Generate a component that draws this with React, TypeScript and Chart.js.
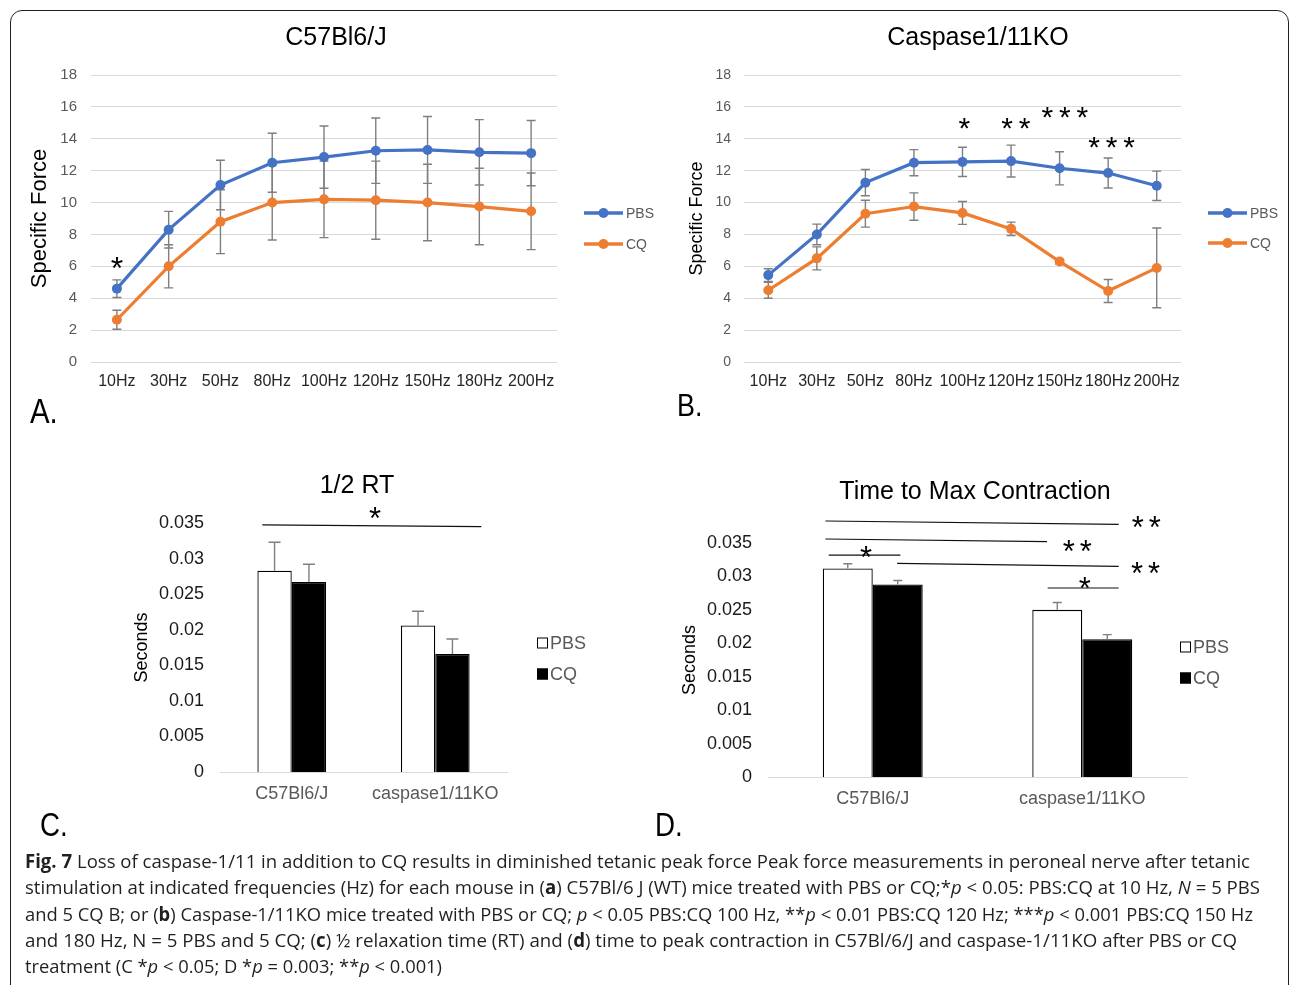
import React, { useEffect, useLayoutEffect, useRef } from 'react';
import { Chart, registerables } from 'chart.js';

Chart.register(...registerables);

const SANS = "'Liberation Sans', Arial, Helvetica, sans-serif";
Chart.defaults.font.family = SANS;

// ---------- Data ----------
const freqLabels = ['10Hz', '30Hz', '50Hz', '80Hz', '100Hz', '120Hz', '150Hz', '180Hz', '200Hz'];

// Panel A: C57Bl6/J
const wtPBS = [4.6, 8.3, 11.1, 12.5, 12.85, 13.25, 13.3, 13.15, 13.1];
const wtPBSErr = [0.55, 1.15, 1.55, 1.85, 1.95, 2.05, 2.1, 2.05, 2.05];
const wtCQ = [2.65, 6.0, 8.8, 10.0, 10.2, 10.15, 10.0, 9.75, 9.45];
const wtCQErr = [0.6, 1.35, 2.0, 2.35, 2.4, 2.45, 2.4, 2.4, 2.4];

// Panel B: Caspase1/11KO
const koPBS = [5.45, 8.0, 11.25, 12.5, 12.55, 12.6, 12.15, 11.85, 11.05];
const koPBSErr = [0.4, 0.65, 0.82, 0.82, 0.92, 1.0, 1.04, 0.94, 0.92];
const koCQ = [4.5, 6.5, 9.3, 9.75, 9.35, 8.35, 6.3, 4.45, 5.9];
const koCQErr = [0.5, 0.72, 0.84, 0.86, 0.72, 0.42, 0.15, 0.72, 2.5];

// Panels C and D
const groupLabels = ['C57Bl6/J', 'caspase1/11KO'];
const rtPBS = [0.0283, 0.0206];
const rtPBSErr = [0.004, 0.002];
const rtCQ = [0.0267, 0.0166];
const rtCQErr = [0.0025, 0.0021];

const tmcPBS = [0.0312, 0.025];
const tmcPBSErr = [0.0007, 0.0011];
const tmcCQ = [0.0288, 0.0206];
const tmcCQErr = [0.0006, 0.0007];

// Significance marks (x = category index, y = axis value)
const starsA = [{ x: 0, y: 6.3, n: 1 }];
const starsB = [
  { x: 4.04, y: 15.07, n: 1 },
  { x: 5.1, y: 15.07, n: 2 },
  { x: 6.11, y: 15.76, n: 3 },
  { x: 7.07, y: 13.93, n: 3 },
];
const bracketsC = [{ x1: -0.205, y1: 0.03475, x2: 1.321, y2: 0.0345 }];
const starsC = [{ x: 0.581, y: 0.03655, n: 1 }];
const bracketsD = [
  { x1: -0.226, y1: 0.03829, x2: 1.174, y2: 0.0378 },
  { x1: -0.226, y1: 0.0356, x2: 0.832, y2: 0.03521 },
  { x1: -0.21, y1: 0.0332, x2: 0.132, y2: 0.0332 },
  { x1: 0.116, y1: 0.03196, x2: 1.174, y2: 0.03151 },
  { x1: 0.835, y1: 0.02827, x2: 1.174, y2: 0.02827 },
];
const starsD = [
  { x: 1.306, y: 0.03829, n: 2 },
  { x: 0.976, y: 0.03466, n: 2 },
  { x: -0.032, y: 0.0339, n: 1 },
  { x: 1.302, y: 0.03151, n: 2 },
  { x: 1.012, y: 0.02917, n: 1 },
];

const BLUE = '#4472C4';
const ORANGE = '#ED7D31';

// ---------- Plugins ----------
function makeErrorBars(cfg: { color: string; width: number; cap: number; behind: boolean; upOnly: boolean }) {
  const draw = (chart: any) => {
    const { ctx } = chart;
    const ys = chart.scales.y;
    ctx.save();
    ctx.strokeStyle = cfg.color;
    ctx.lineWidth = cfg.width;
    chart.data.datasets.forEach((ds: any, i: number) => {
      const errs: number[] = ds.errors;
      if (!errs) return;
      const meta = chart.getDatasetMeta(i);
      meta.data.forEach((el: any, j: number) => {
        const v = ds.data[j];
        const e = errs[j];
        const x = el.x;
        const yTop = ys.getPixelForValue(v + e);
        const yBot = cfg.upOnly ? el.y : ys.getPixelForValue(v - e);
        ctx.beginPath();
        ctx.moveTo(x, yBot);
        ctx.lineTo(x, yTop);
        ctx.moveTo(x - cfg.cap, yTop);
        ctx.lineTo(x + cfg.cap, yTop);
        if (!cfg.upOnly) {
          ctx.moveTo(x - cfg.cap, yBot);
          ctx.lineTo(x + cfg.cap, yBot);
        }
        ctx.stroke();
      });
    });
    ctx.restore();
  };
  return {
    id: 'errorBars',
    beforeDatasetsDraw(chart: any) {
      if (cfg.behind) draw(chart);
    },
    afterDatasetsDraw(chart: any) {
      if (!cfg.behind) draw(chart);
    },
  };
}

function drawStars(ctx: CanvasRenderingContext2D, cx: number, cy: number, n: number, size: number, gap: number) {
  ctx.font = `${size}px ${SANS}`;
  ctx.textAlign = 'center';
  ctx.textBaseline = 'alphabetic';
  ctx.fillStyle = '#000';
  for (let k = 0; k < n; k++) {
    const x = cx + (k - (n - 1) / 2) * gap;
    ctx.fillText('*', x, cy + size * 0.555);
  }
}

type DecorCfg = {
  title: { text: string; x: number; y: number; size: number };
  legend: { kind: 'line' | 'box'; x: number; ys: number[]; items: { label: string; color: string }[]; size: number };
  stars?: { x: number; y: number; n: number }[];
  brackets?: { x1: number; y1: number; x2: number; y2: number }[];
  starSize: number;
  starGap: number;
};

function makeDecor(cfg: DecorCfg) {
  return {
    id: 'decor',
    afterDraw(chart: any) {
      const { ctx } = chart;
      const xs = chart.scales.x;
      const ys = chart.scales.y;
      ctx.save();
      // title
      ctx.font = `${cfg.title.size}px ${SANS}`;
      ctx.fillStyle = '#000';
      ctx.textAlign = 'center';
      ctx.textBaseline = 'middle';
      ctx.fillText(cfg.title.text, cfg.title.x, cfg.title.y);
      // brackets
      (cfg.brackets || []).forEach((b) => {
        ctx.beginPath();
        ctx.strokeStyle = '#111';
        ctx.lineWidth = 1.2;
        ctx.moveTo(xs.getPixelForValue(b.x1), ys.getPixelForValue(b.y1));
        ctx.lineTo(xs.getPixelForValue(b.x2), ys.getPixelForValue(b.y2));
        ctx.stroke();
      });
      // stars
      (cfg.stars || []).forEach((s) => {
        drawStars(ctx, xs.getPixelForValue(s.x), ys.getPixelForValue(s.y), s.n, cfg.starSize, cfg.starGap);
      });
      // legend
      const lg = cfg.legend;
      lg.items.forEach((it, k) => {
        const y = lg.ys[k];
        let tx = lg.x;
        if (lg.kind === 'line') {
          ctx.beginPath();
          ctx.strokeStyle = it.color;
          ctx.lineWidth = 3.5;
          ctx.moveTo(lg.x, y);
          ctx.lineTo(lg.x + 39, y);
          ctx.stroke();
          ctx.beginPath();
          ctx.fillStyle = it.color;
          ctx.arc(lg.x + 19.5, y, 5, 0, Math.PI * 2);
          ctx.fill();
          tx = lg.x + 42;
        } else {
          ctx.fillStyle = it.color;
          ctx.fillRect(lg.x, y - 5.5, 11, 11);
          ctx.strokeStyle = '#000';
          ctx.lineWidth = 1;
          ctx.strokeRect(lg.x + 0.5, y - 5, 10, 10);
          tx = lg.x + 13;
        }
        ctx.font = `${lg.size}px ${SANS}`;
        ctx.fillStyle = '#595959';
        ctx.textAlign = 'left';
        ctx.textBaseline = 'middle';
        ctx.fillText(it.label, tx, y + 1);
      });
      ctx.restore();
    },
  };
}

// ---------- Chart configs ----------
const W = 1290;
const H = 985;

function lineConfig(opts: {
  pbs: number[]; pbsErr: number[]; cq: number[]; cqErr: number[];
  area: { l: number; r: number; t: number; b: number };
  yWidth: number; yTitleSize: number; yTitlePad: number; yTickSize: number; yTickPad: number;
  decor: DecorCfg;
}) {
  const { area } = opts;
  const xH = 40;
  return {
    type: 'line',
    data: {
      labels: freqLabels,
      datasets: [
        {
          label: 'PBS', data: opts.pbs, errors: opts.pbsErr,
          borderColor: BLUE, backgroundColor: BLUE, pointBackgroundColor: BLUE, pointBorderColor: BLUE,
          borderWidth: 3.2, pointRadius: 5, pointBorderWidth: 0, tension: 0,
        },
        {
          label: 'CQ', data: opts.cq, errors: opts.cqErr,
          borderColor: ORANGE, backgroundColor: ORANGE, pointBackgroundColor: ORANGE, pointBorderColor: ORANGE,
          borderWidth: 3.2, pointRadius: 5, pointBorderWidth: 0, tension: 0,
        },
      ],
    },
    options: {
      responsive: false,
      animation: false,
      events: [],
      layout: { padding: { left: area.l - opts.yWidth, right: W - area.r, top: area.t, bottom: H - area.b - xH } },
      scales: {
        x: {
          offset: true,
          grid: { display: false, drawTicks: false, offset: true },
          border: { display: false },
          ticks: { color: '#262626', font: { size: 16 }, padding: 10, autoSkip: false, maxRotation: 0, minRotation: 0 },
          afterFit: (s: any) => { s.height = xH; },
        },
        y: {
          min: 0, max: 18,
          grid: { color: '#d9d9d9', lineWidth: 1, drawTicks: false },
          border: { display: false },
          ticks: { stepSize: 2, color: '#595959', font: { size: opts.yTickSize }, padding: opts.yTickPad },
          title: { display: true, text: 'Specific Force', color: '#000', font: { size: opts.yTitleSize }, padding: { top: opts.yTitlePad, bottom: 0 } },
          afterFit: (s: any) => { s.width = opts.yWidth; },
        },
      },
      plugins: { legend: { display: false }, tooltip: { enabled: false }, title: { display: false } },
    },
    plugins: [makeErrorBars({ color: '#7f7f7f', width: 1.4, cap: 4.5, behind: true, upOnly: false }), makeDecor(opts.decor)],
  };
}

function barConfig(opts: {
  pbs: number[]; pbsErr: number[]; cq: number[]; cqErr: number[];
  area: { l: number; r: number; t: number; b: number };
  yWidth: number; yTitlePad: number; yTickPad: number; catPct: number; cap: number;
  decor: DecorCfg;
}) {
  const { area } = opts;
  const xH = 40;
  return {
    type: 'bar',
    data: {
      labels: groupLabels,
      datasets: [
        {
          label: 'PBS', data: opts.pbs, errors: opts.pbsErr,
          backgroundColor: '#ffffff', borderColor: '#000000', borderWidth: 1.3,
          categoryPercentage: opts.catPct, barPercentage: 1,
        },
        {
          label: 'CQ', data: opts.cq, errors: opts.cqErr,
          backgroundColor: '#000000', borderColor: '#000000', borderWidth: 1.3,
          categoryPercentage: opts.catPct, barPercentage: 1,
        },
      ],
    },
    options: {
      responsive: false,
      animation: false,
      events: [],
      layout: { padding: { left: area.l - opts.yWidth, right: W - area.r, top: area.t, bottom: H - area.b - xH } },
      scales: {
        x: {
          grid: { display: false, drawTicks: false },
          border: { display: true, color: '#d9d9d9', width: 1 },
          ticks: { color: '#595959', font: { size: 18 }, padding: 11, autoSkip: false, maxRotation: 0, minRotation: 0 },
          afterFit: (s: any) => { s.height = xH; },
        },
        y: {
          min: 0, max: 0.035,
          grid: { display: false, drawTicks: false },
          border: { display: false },
          ticks: {
            stepSize: 0.005, color: '#1a1a1a', font: { size: 18 }, padding: opts.yTickPad,
            callback: (v: any) => String(Number(Number(v).toFixed(3))),
          },
          title: { display: true, text: 'Seconds', color: '#000', font: { size: 18 }, padding: { top: opts.yTitlePad, bottom: 0 } },
          afterFit: (s: any) => { s.width = opts.yWidth; },
        },
      },
      plugins: { legend: { display: false }, tooltip: { enabled: false }, title: { display: false } },
    },
    plugins: [makeErrorBars({ color: '#7f7f7f', width: 1.4, cap: opts.cap, behind: false, upOnly: true }), makeDecor(opts.decor)],
  };
}

const configA = lineConfig({
  pbs: wtPBS, pbsErr: wtPBSErr, cq: wtCQ, cqErr: wtCQErr,
  area: { l: 91, r: 557, t: 75, b: 362 },
  yWidth: 70, yTitleSize: 22, yTitlePad: 6, yTickSize: 15, yTickPad: 14,
  decor: {
    title: { text: 'C57Bl6/J', x: 336, y: 38, size: 25 },
    legend: { kind: 'line', x: 584, ys: [213, 244], items: [{ label: 'PBS', color: BLUE }, { label: 'CQ', color: ORANGE }], size: 14 },
    stars: starsA, starSize: 32, starGap: 17,
  },
});

const configB = lineConfig({
  pbs: koPBS, pbsErr: koPBSErr, cq: koCQ, cqErr: koCQErr,
  area: { l: 744, r: 1181, t: 75, b: 362 },
  yWidth: 60, yTitleSize: 18, yTitlePad: 2, yTickSize: 14, yTickPad: 13,
  decor: {
    title: { text: 'Caspase1/11KO', x: 978, y: 38, size: 25 },
    legend: { kind: 'line', x: 1208, ys: [213, 243], items: [{ label: 'PBS', color: BLUE }, { label: 'CQ', color: ORANGE }], size: 14 },
    stars: starsB, starSize: 30, starGap: 17.5,
  },
});

const configC = barConfig({
  pbs: rtPBS, pbsErr: rtPBSErr, cq: rtCQ, cqErr: rtCQErr,
  area: { l: 220, r: 507, t: 523, b: 772 },
  yWidth: 90, yTitlePad: 1, yTickPad: 16, catPct: 0.479, cap: 6,
  decor: {
    title: { text: '1/2 RT', x: 357, y: 486, size: 25 },
    legend: { kind: 'box', x: 537, ys: [643, 674], items: [{ label: 'PBS', color: '#ffffff' }, { label: 'CQ', color: '#000000' }], size: 18 },
    stars: starsC, brackets: bracketsC, starSize: 31, starGap: 17,
  },
});

const configD = barConfig({
  pbs: tmcPBS, pbsErr: tmcPBSErr, cq: tmcCQ, cqErr: tmcCQErr,
  area: { l: 768, r: 1187, t: 543, b: 777 },
  yWidth: 90, yTitlePad: 1, yTickPad: 16, catPct: 0.477, cap: 4.5,
  decor: {
    title: { text: 'Time to Max Contraction', x: 975, y: 492, size: 25 },
    legend: { kind: 'box', x: 1180, ys: [647, 678], items: [{ label: 'PBS', color: '#ffffff' }, { label: 'CQ', color: '#000000' }], size: 18 },
    stars: starsD, brackets: bracketsD, starSize: 31, starGap: 17,
  },
});

// ---------- Components ----------
function ChartCanvas({ config }: { config: any }) {
  const ref = useRef<HTMLCanvasElement>(null);
  useEffect(() => {
    const chart = new Chart(ref.current as HTMLCanvasElement, config);
    return () => chart.destroy();
  }, [config]);
  return (
    <canvas
      ref={ref}
      width={W}
      height={H}
      style={{ position: 'absolute', left: 0, top: 0, width: W, height: H }}
    />
  );
}

const captionTargets = [1225, 1235, 1228, 1212, 417];

function PanelLabel({ text, left, capTop, size }: { text: string; left: number; capTop: number; size: number }) {
  return (
    <div
      style={{
        position: 'absolute', left, top: capTop - 0.1305 * size, fontSize: size, lineHeight: 1,
        fontFamily: SANS, color: '#000', whiteSpace: 'nowrap',
        transform: 'scaleX(0.84)', transformOrigin: 'left top',
      }}
    >
      {text}
    </div>
  );
}

export default function App() {
  const lineRefs = useRef<(HTMLSpanElement | null)[]>([]);

  useLayoutEffect(() => {
    const fit = () => {
      lineRefs.current.forEach((el, i) => {
        if (!el) return;
        el.style.transform = 'none';
        const w = el.getBoundingClientRect().width;
        if (w > 0) el.style.transform = `scaleX(${captionTargets[i] / w})`;
      });
    };
    fit();
    const fonts = (document as any).fonts;
    if (fonts && fonts.ready) fonts.ready.then(fit);
  }, []);

  const lineStyle = (i: number): React.CSSProperties => ({
    position: 'absolute', left: 25, top: 848 + i * 26.25, height: 26, lineHeight: '26px',
    whiteSpace: 'nowrap', transformOrigin: 'left center', display: 'inline-block',
  });

  const captionLines: React.ReactNode[] = [
    <><b>Fig. 7</b> Loss of caspase-1/11 in addition to CQ results in diminished tetanic peak force Peak force measurements in peroneal nerve after tetanic</>,
    <>stimulation at indicated frequencies (Hz) for each mouse in (<b>a</b>) C57Bl/6 J (WT) mice treated with PBS or CQ;*<i>p</i> &lt; 0.05: PBS:CQ at 10 Hz, <i>N</i> = 5 PBS</>,
    <>and 5 CQ B; or (<b>b</b>) Caspase-1/11KO mice treated with PBS or CQ; <i>p</i> &lt; 0.05 PBS:CQ 100 Hz, **<i>p</i> &lt; 0.01 PBS:CQ 120 Hz; ***<i>p</i> &lt; 0.001 PBS:CQ 150 Hz</>,
    <>and 180 Hz, N = 5 PBS and 5 CQ; (<b>c</b>) ½ relaxation time (RT) and (<b>d</b>) time to peak contraction in C57Bl/6/J and caspase-1/11KO after PBS or CQ</>,
    <>treatment (C *<i>p</i> &lt; 0.05; D *<i>p</i> = 0.003; **<i>p</i> &lt; 0.001)</>,
  ];

  return (
    <div style={{ position: 'absolute', left: 0, top: 0, width: W, height: H, overflow: 'hidden', background: '#fff' }}>
      <div
        style={{
          position: 'absolute', left: 10, top: 10, width: 1279, height: 1010, boxSizing: 'border-box',
          border: '1.5px solid #231f20', borderRadius: 12,
        }}
      />
      <ChartCanvas config={configA} />
      <ChartCanvas config={configB} />
      <ChartCanvas config={configC} />
      <ChartCanvas config={configD} />
      <PanelLabel text="A." left={30} capTop={398} size={35} />
      <PanelLabel text="B." left={677} capTop={393} size={32} />
      <PanelLabel text="C." left={40} capTop={812} size={33} />
      <PanelLabel text="D." left={655} capTop={812} size={33} />
      <div style={{ fontFamily: "'Open Sans', 'Noto Sans', sans-serif", fontSize: 19, color: '#231f20' }}>
        {captionLines.map((node, i) => (
          <span key={i} ref={(el) => { lineRefs.current[i] = el; }} style={lineStyle(i)}>
            {node}
          </span>
        ))}
      </div>
    </div>
  );
}
